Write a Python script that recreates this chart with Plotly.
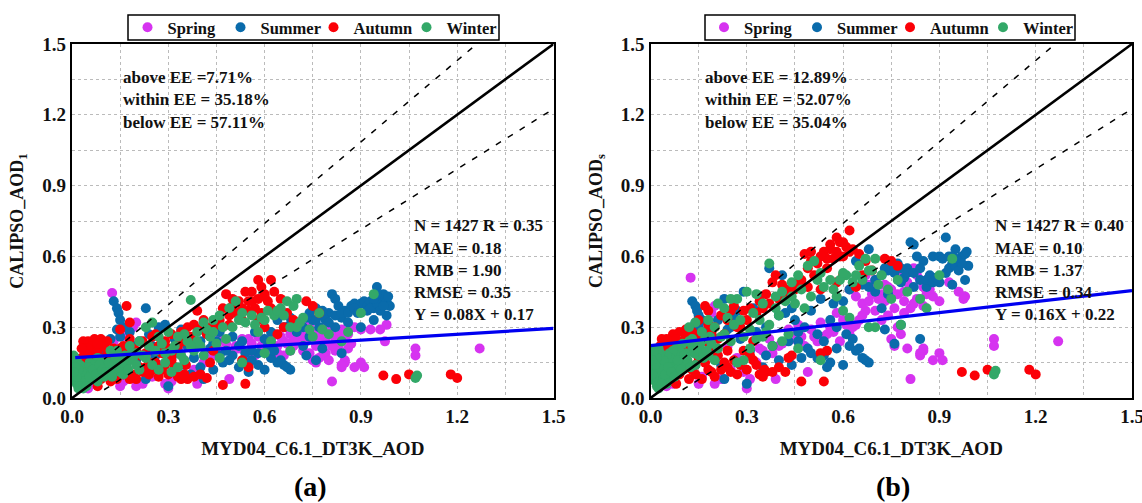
import plotly.graph_objects as go

# each row: MODIS AOD (x), CALIPSO AOD panel a, CALIPSO AOD panel b
SPRING = [
(.125,.445,.51),(1.27,.21,.24),(1.07,.21,.25),(1.07,.18,.22),(.81,.07,.08),(.90,.15,.19),(.91,.13,.16),(.88,.13,.16),
(.85,.15,.20),(.84,.13,.18),(.85,.16,.21),(.84,.14,.19),(.98,.31,.43),(.96,.29,.45),(.93,.29,.49),(.975,.24,.42),
(.62,.21,.46),(.64,.19,.43),(.66,.24,.40),(.68,.27,.48),(.70,.29,.50),(.72,.25,.44),(.74,.31,.47),(.76,.22,.38),
(.78,.28,.53),(.80,.30,.49),(.82,.25,.55),(.84,.29,.50),(.86,.27,.44),(.88,.30,.43),(.90,.29,.41),(.87,.23,.46),
(.83,.22,.42),(.81,.27,.38),(.79,.19,.36),(.77,.17,.30),(.75,.16,.25),(.76,.15,.22),(.78,.18,.27),(.80,.16,.21),
(.72,.20,.33),(.70,.24,.37),(.68,.20,.41),(.66,.18,.35),(.64,.22,.31),(.62,.25,.27),(.60,.20,.33),(.58,.26,.36),
(.56,.23,.30),(.54,.17,.26),(.52,.21,.24),(.50,.19,.29),(.49,.08,.11),(.48,.23,.22),(.46,.25,.31),(.44,.18,.25),
(.39,.06,.08),(.30,.04,.04),(.31,.07,.08),(.29,.06,.11),(.20,.05,.06),(.22,.06,.08),(.15,.05,.06),(.16,.07,.09),
(.25,.09,.12),(.27,.14,.17),(.33,.11,.15),(.35,.16,.20),(.38,.12,.19),(.41,.15,.23),(.20,.32,.39),(.19,.30,.36),
(.17,.26,.26),(.13,.24,.22),(.10,.12,.14),(.08,.09,.10),(.05,.04,.05),(.07,.06,.06),(.03,.07,.08),(.24,.18,.22),
(.86,.21,.50),(.82,.20,.40),(.74,.19,.35),(.69,.22,.44),(.67,.30,.52),(.73,.28,.41),(.79,.24,.45),(.85,.25,.39),
(.71,.26,.42),(.73,.24,.48),(.75,.28,.46),(.77,.26,.44),(.79,.30,.41),(.81,.22,.47),(.83,.26,.52),(.85,.28,.47),
(.69,.25,.47),(.67,.23,.37),(.65,.26,.33),(.63,.27,.30),(.61,.23,.31),(.59,.22,.24),(.57,.18,.28),(.55,.25,.27),
(.53,.25,.32),(.51,.22,.26),(.47,.20,.26),(.45,.22,.27),(.43,.19,.29),(.40,.22,.22),(.37,.24,.25),(.34,.20,.21),
]

SUMMER = [
(.13,.41,.41),(.14,.38,.39),(.145,.36,.37),(.15,.33,.35),(.23,.38,.42),(.81,.44,.66),(.82,.42,.65),(.83,.39,.60),
(.85,.37,.58),(.87,.39,.52),(.88,.40,.60),(.90,.40,.60),(.91,.41,.59),(.92,.39,.68),(.93,.41,.60),(.94,.38,.57),
(.95,.47,.63),(.96,.42,.58),(.97,.44,.60),(.98,.41,.61),(.985,.43,.62),(.99,.39,.56),(.98,.35,.50),(.94,.33,.48),
(.90,.30,.49),(.84,.34,.50),(.82,.30,.47),(.80,.36,.55),(.78,.35,.49),(.76,.38,.53),(.74,.36,.54),(.72,.30,.52),
(.70,.32,.50),(.68,.34,.63),(.66,.30,.48),(.64,.33,.58),(.62,.28,.46),(.84,.19,.25),(.78,.21,.31),(.76,.16,.23),
(.73,.18,.29),(.68,.12,.15),(.67,.13,.16),(.66,.14,.17),(.65,.16,.21),(.64,.15,.20),(.62,.17,.22),(.60,.12,.14),
(.58,.14,.21),(.56,.16,.15),(.54,.19,.24),(.55,.11,.13),(.52,.22,.27),(.50,.18,.19),(.48,.20,.30),(.47,.15,.17),
(.45,.24,.33),(.43,.21,.24),(.42,.27,.36),(.40,.13,.16),(.38,.17,.22),(.36,.22,.18),(.34,.29,.43),(.32,.25,.38),
(.30,.05,.06),(.29,.31,.45),(.27,.30,.37),(.25,.22,.30),(.23,.08,.08),(.22,.12,.14),(.20,.16,.19),(.18,.28,.31),
(.16,.30,.33),(.14,.29,.32),(.12,.25,.29),(.10,.19,.24),(.08,.15,.17),(.06,.12,.16),(.35,.14,.13),(.37,.10,.55),
(.41,.08,.52),(.44,.12,.14),(.46,.28,.28),(.50,.26,.37),(.53,.24,.42),(.57,.28,.40),(.61,.22,.27),(.63,.20,.25),
(.70,.28,.45),(.72,.22,.38),(.74,.26,.44),(.77,.30,.57),(.79,.33,.51),(.86,.32,.47),(.75,.33,.56),(.73,.34,.55),
(.76,.33,.54),(.78,.37,.55),(.80,.32,.53),(.82,.35,.53),(.84,.36,.55),(.86,.36,.50),(.88,.38,.49),(.89,.36,.51),
(.92,.37,.53),(.93,.38,.55),(.95,.40,.56),(.96,.37,.54),(.97,.39,.57),(.95,.44,.59),(.94,.42,.60),(.68,.31,.47),
(.60,.25,.41),(.58,.19,.30),(.56,.20,.33),(.54,.15,.18),(.52,.13,.17),(.49,.16,.21),(.46,.18,.24),(.44,.23,.38),
(.40,.24,.35),(.36,.26,.30),(.33,.20,.28),(.31,.17,.20),(.28,.21,.25),(.26,.18,.34),(.24,.27,.29),(.21,.24,.33),
(.19,.22,.27),(.17,.20,.28),(.15,.26,.30),(.11,.18,.22),
]

AUTUMN = [
(.62,.50,.71),(.58,.50,.68),(.59,.47,.66),(.60,.44,.60),(.56,.45,.65),(.54,.45,.62),(.48,.44,.61),(.50,.42,.62),
(.52,.41,.57),(.63,.45,.63),(.65,.42,.61),(.61,.41,.64),(.57,.38,.59),(.55,.37,.55),(.51,.36,.52),(.47,.38,.50),
(.73,.41,.59),(.75,.39,.58),(.77,.36,.56),(.69,.33,.54),(.66,.30,.52),(.64,.27,.47),(.60,.30,.52),(.58,.33,.49),
(.53,.33,.46),(.49,.31,.47),(.46,.33,.49),(.43,.30,.46),(.41,.33,.48),(.39,.37,.52),(.38,.31,.49),(.36,.30,.44),
(.34,.28,.41),(.31,.27,.38),(.17,.39,.39),(.18,.32,.37),(.15,.29,.33),(.29,.24,.37),(.26,.27,.39),(.24,.22,.33),
(.22,.24,.35),(.20,.20,.30),(.18,.25,.31),(.16,.17,.26),(.13,.21,.28),(.11,.24,.29),(.09,.25,.28),(.07,.25,.27),
(.05,.24,.25),(.035,.24,.25),(.04,.21,.23),(.06,.22,.24),(.08,.20,.22),(.03,.17,.19),(.05,.18,.20),(.07,.16,.18),
(.09,.14,.16),(.10,.17,.19),(.12,.11,.13),(.13,.09,.12),(.15,.15,.17),(.17,.12,.15),(.19,.10,.11),(.20,.08,.09),
(.22,.11,.12),(.24,.10,.13),(.26,.15,.16),(.28,.12,.14),(.30,.10,.12),(.32,.13,.16),(.34,.08,.10),(.36,.08,.11),
(.38,.09,.11),(.40,.10,.13),(.42,.085,.11),(.355,.14,.12),(.47,.055,.07),(.54,.06,.07),(.97,.095,.11),(1.01,.08,.095),
(1.05,.10,.12),(1.18,.10,.12),(1.20,.085,.10),(.55,.13,.20),(.53,.16,.19),(.44,.20,.18),(.32,.19,.24),(.28,.19,.30),
(.24,.15,.20),(.21,.13,.18),(.14,.12,.10),(.12,.07,.08),(.09,.08,.10),(.06,.09,.07),(.08,.05,.06),(.25,.26,.37),
(.19,.17,.22),(.16,.22,.27),(.11,.13,.21),(.04,.14,.15),(.67,.36,.58),(.62,.38,.62),(.59,.36,.60),(.56,.41,.63),
(.60,.43,.66),(.58,.42,.62),(.55,.41,.59),(.53,.38,.60),(.50,.39,.58),(.49,.35,.55),(.45,.31,.46),(.42,.27,.44),
(.40,.29,.42),(.37,.26,.40),(.35,.24,.38),(.33,.22,.36),(.30,.21,.33),(.27,.22,.30),(.23,.19,.27),(.21,.18,.25),
(.19,.21,.28),(.17,.19,.24),(.15,.21,.22),(.14,.18,.26),(.12,.17,.24),(.11,.20,.26),(.10,.22,.23),(.08,.23,.25),
(.06,.19,.21),(.05,.21,.23),(.04,.19,.21),(.035,.15,.17),(.03,.21,.22),(.25,.12,.11),(.27,.09,.10),(.23,.13,.15),
(.29,.14,.20),(.31,.16,.18),(.33,.09,.14),(.35,.10,.09),(.18,.08,.12),(.16,.10,.08),(.14,.08,.14),(.43,.15,.17),
]

WINTER = [
(.37,.415,.57),(.94,.44,.59),(.90,.36,.52),(1.07,.085,.10),(1.075,.095,.115),(.70,.42,.59),(.67,.41,.59),(.69,.39,.54),
(.65,.38,.56),(.77,.36,.50),(.72,.34,.52),(.68,.30,.54),(.63,.35,.49),(.61,.37,.52),(.59,.34,.50),(.56,.35,.50),
(.53,.36,.53),(.51,.41,.58),(.49,.38,.56),(.46,.35,.52),(.44,.33,.49),(.41,.32,.45),(.39,.28,.43),(.35,.27,.40),
(.33,.26,.44),(.30,.28,.45),(.27,.26,.42),(.25,.32,.42),(.23,.30,.38),(.21,.24,.40),(.18,.22,.33),(.14,.20,.32),
(.12,.20,.30),(.86,.28,.38),(.80,.27,.45),(.84,.24,.42),(.75,.26,.42),(.78,.29,.31),(.70,.30,.30),(.68,.20,.30),
(.62,.24,.34),(.60,.19,.37),(.53,.15,.16),(.58,.28,.43),(.50,.30,.43),(.48,.25,.38),(.46,.17,.21),(.43,.26,.27),
(.41,.18,.24),(.38,.20,.22),(.35,.16,.26),(.33,.13,.25),(.31,.11,.21),(.29,.15,.16),(.27,.12,.15),(.25,.14,.24),
(.23,.17,.27),(.21,.12,.21),(.19,.17,.23),(.17,.14,.25),(.15,.11,.18),(.13,.15,.22),(.11,.13,.19),(.09,.12,.17),
(.08,.17,.21),(.10,.09,.14),(.06,.14,.19),(.07,.10,.15),(.05,.11,.13),(.055,.15,.16),(.04,.08,.10),(.045,.13,.14),
(.03,.05,.06),(.035,.10,.11),(.03,.13,.15),(.025,.07,.08),(.025,.11,.12),(.02,.04,.05),(.02,.09,.10),(.02,.14,.15),
(.015,.06,.07),(.015,.12,.13),(.01,.08,.09),(.01,.11,.12),(.01,.15,.17),(.005,.09,.10),(.005,.13,.14),(.005,.18,.18),
(.015,.16,.18),(.03,.09,.17),(.04,.06,.08),(.05,.07,.06),(.06,.08,.09),(.07,.13,.12),(.08,.07,.11),(.09,.10,.13),
(.11,.10,.15),(.12,.12,.24),(.14,.14,.14),(.16,.10,.20),(.18,.16,.18),(.20,.14,.16),(.22,.18,.26),(.26,.20,.31),
(.28,.23,.33),(.32,.22,.36),(.34,.18,.33),(.36,.24,.28),(.40,.22,.35),(.42,.29,.41),(.45,.23,.40),(.47,.30,.46),
(.52,.33,.50),(.54,.32,.47),(.57,.31,.46),(.60,.33,.53),(.64,.37,.52),(.66,.35,.50),(.71,.32,.48),(.74,.29,.46),
(.44,.28,.43),(.39,.24,.38),(.37,.22,.31),(.31,.20,.29),(.29,.19,.26),(.24,.22,.34),(.20,.19,.30),(.16,.16,.28),
(.13,.12,.25),(.10,.15,.23),(.09,.15,.20),(.08,.12,.18),(.07,.14,.20),(.06,.11,.17),(.05,.13,.18),(.04,.11,.16),
(.035,.07,.12),(.03,.11,.19),(.025,.14,.21),(.02,.12,.17),(.015,.09,.14),(.01,.13,.20),(.005,.11,.16),(.025,.05,.04),
(.035,.04,.06),(.045,.05,.10),(.055,.09,.13),(.065,.12,.11),(.075,.10,.09),(.085,.14,.16),(.095,.12,.12),(.105,.11,.18),
(.115,.15,.16),(.125,.09,.13),(.135,.17,.19),(.145,.13,.21),(.155,.15,.23),(.165,.18,.17),(.175,.12,.20),(.185,.19,.26),
]

SEASON_NAMES = ["Spring", "Summer", "Autumn", "Winter"]
SEASON_COLORS = ["#d633f0", "#0a6bab", "#fb0007", "#33a868"]

ONE_X = [0, 1.5]
ONE_Y = [0, 1.5]
EE_X = [0.1, 1.5]
EE_UP = [0.165, 1.775]
EE_LOW = [0.035, 1.225]
FIT_X = [0.01, 1.5]
FIT_Y_A = [0.171, 0.295]
FIT_Y_B = [0.222, 0.455]

TICK_VALS = [0, .3, .6, .9, 1.2, 1.5]
TICK_TEXT = ["<b>0.0</b>", "<b>0.3</b>", "<b>0.6</b>", "<b>0.9</b>", "<b>1.2</b>", "<b>1.5</b>"]
YTITLES = ["CALIPSO_AOD<sub>1</sub>", "CALIPSO_AOD<sub>s</sub>"]
STATS_TOP = [["above EE =7.71%", "within EE = 35.18%", "below EE = 57.11%"],
             ["above EE = 12.89%", "within EE = 52.07%", "below EE = 35.04%"]]
STATS_RIGHT = [["N = 1427 R = 0.35", "MAE = 0.18", "RMB = 1.90", "RMSE = 0.35", "Y = 0.08X + 0.17"],
               ["N = 1427 R = 0.40", "MAE = 0.10", "RMB = 1.37", "RMSE = 0.34", "Y = 0.16X + 0.22"]]
PANEL_LABELS = ["(a)", "(b)"]

FONT = "Liberation Serif"
W, H = 1142, 503
PANELS = [(72, 553.5), (650.5, 1132)]
TOP, BOTTOM = 44, 398
LEGEND_FRAMES = [(128, 499), (705, 1075)]

fig = go.Figure()
for p, (left, right) in enumerate(PANELS):
    sfx = "" if p == 0 else "2"
    xa, ya = "x" + sfx, "y" + sfx
    legend_id = "legend" + sfx
    for name, color, rows in zip(SEASON_NAMES, SEASON_COLORS, [SPRING, SUMMER, AUTUMN, WINTER]):
        fig.add_trace(go.Scatter(
            x=[r[0] for r in rows], y=[r[p + 1] for r in rows], mode="markers", name=name,
            marker=dict(color=color, size=10), xaxis=xa, yaxis=ya, legend=legend_id))
    fig.add_trace(go.Scatter(x=ONE_X, y=ONE_Y, mode="lines", line=dict(color="black", width=2.6),
                             xaxis=xa, yaxis=ya, showlegend=False))
    for ys in (EE_UP, EE_LOW):
        fig.add_trace(go.Scatter(x=EE_X, y=ys, mode="lines", xaxis=xa, yaxis=ya, showlegend=False,
                                 line=dict(color="black", width=1.5, dash="6px,8px")))
    fig.add_trace(go.Scatter(x=FIT_X if p == 0 else [0, 1.5], y=FIT_Y_A if p == 0 else FIT_Y_B, mode="lines",
                             line=dict(color="#0000f0", width=3.2), xaxis=xa, yaxis=ya, showlegend=False))
    axis_common = dict(range=[0, 1.5], tickmode="array", tickvals=TICK_VALS, ticktext=TICK_TEXT, showgrid=True,
                       gridcolor="#bbbbbb", griddash="dot", gridwidth=1, zeroline=False, showline=True,
                       linecolor="black", linewidth=2.2, mirror=True, ticks="", automargin=False,
                       ticklabeloverflow="allow",
                       minor=dict(dtick=0.15, tick0=0, showgrid=True, gridcolor="#bbbbbb", griddash="dot", gridwidth=1),
                       tickfont=dict(family=FONT, size=19, color="#111111"))
    fl, fr = LEGEND_FRAMES[p]
    fig.add_shape(type="rect", xref="paper", yref="paper", x0=fl / W, x1=fr / W, y0=1 - 40 / H, y1=1 - 15 / H,
                  line=dict(color="black", width=1.5), fillcolor="white", layer="below")
    fig.update_layout({
        "xaxis" + sfx: dict(axis_common, domain=[left / W, right / W], anchor=ya,
                            title=dict(text="<b>MYD04_C6.1_DT3K_AOD</b>", standoff=16,
                                       font=dict(family=FONT, size=19, color="#111111"))),
        "yaxis" + sfx: dict(axis_common, domain=[1 - BOTTOM / H, 1 - TOP / H], anchor=xa,
                            title=dict(text="<b>" + YTITLES[p] + "</b>", standoff=14,
                                       font=dict(family=FONT, size=18, color="#111111"))),
        legend_id: dict(orientation="h", x=(fl + fr) / 2 / W, xanchor="center",
                        y=1 - 27.5 / H, yanchor="middle", borderwidth=0, bgcolor="rgba(0,0,0,0)",
                        font=dict(family=FONT, size=16.5, color="#111111", weight="bold"),
                        entrywidth=48, entrywidthmode="pixels", itemclick=False, tracegroupgap=0),
    })
    for i, text in enumerate(STATS_TOP[p]):
        fig.add_annotation(xref="paper", yref="paper", x=(left + (49 if p == 0 else 52)) / W, y=1 - (78 + i * 22) / H,
                           text="<b>" + text + "</b>", showarrow=False, xanchor="left", yanchor="middle",
                           font=dict(family=FONT, size=17, color="#111111"))
    for i, text in enumerate(STATS_RIGHT[p]):
        fig.add_annotation(xref="paper", yref="paper", x=(left + (340 if p == 0 else 342)) / W, y=1 - (226 + i * 22) / H,
                           text="<b>" + text + "</b>", showarrow=False, xanchor="left", yanchor="middle",
                           font=dict(family=FONT, size=17, color="#111111"))
    fig.add_annotation(xref="paper", yref="paper", x=(310 if p == 0 else 893) / W, y=1 - 486 / H,
                       text="<b>" + PANEL_LABELS[p] + "</b>", showarrow=False, xanchor="center", yanchor="middle",
                       font=dict(family=FONT, size=28, color="black"))

fig.update_layout(width=W, height=H, margin=dict(l=0, r=0, t=0, b=0, autoexpand=False),
                  plot_bgcolor="white", paper_bgcolor="white")
fig.write_html("out.html", config=dict(displayModeBar=False),
               post_script="document.body.style.margin='0';document.documentElement.style.overflow='hidden';")
